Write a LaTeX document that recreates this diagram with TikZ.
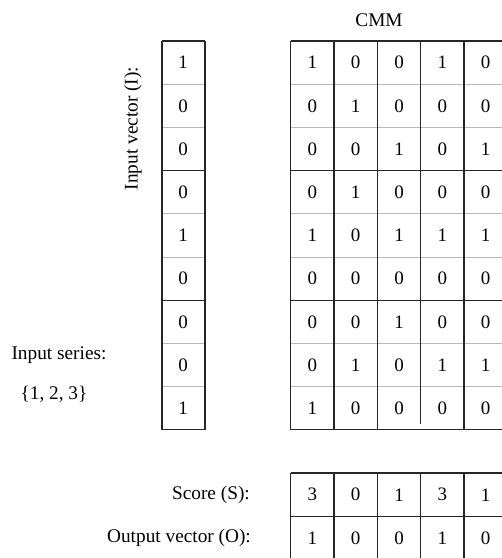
\documentclass[tikz,border=0pt]{standalone}
\usepackage{fontspec}
\setmainfont{Liberation Serif}
\tikzset{
  darkline/.style={line width=1.2pt, draw=black!85},
  lightline/.style={line width=0.8pt, draw=black!28},
  cell/.style={inner sep=0pt, font=\fontsize{19}{22}\selectfont},
  lbl/.style={inner sep=0pt, font=\fontsize{19.3}{22}\selectfont},
}
\begin{document}
\begin{tikzpicture}[x=1pt,y=-1pt]
\useasboundingbox (0,0) rectangle (502,558);
\clip (0,0) rectangle (502,558);
% light inner row lines
\foreach \i in {1,2,4,5,7,8} {
  \draw[lightline] (162,{41+43.2*\i}) -- (205,{41+43.2*\i});
  \draw[lightline] (290.7,{41+43.2*\i}) -- (507.4,{41+43.2*\i});
}
% dark row lines
\foreach \i in {0,3,6,9} {
  \draw[darkline] (162,{41+43.2*\i}) -- (205,{41+43.2*\i});
  \draw[darkline] (290.7,{41+43.2*\i}) -- (507.4,{41+43.2*\i});
}
% input vector sides
\draw[darkline] (162,41) -- (162,429.8);
\draw[darkline] (205,41) -- (205,429.8);
% CMM verticals
\foreach \j in {0,1,2,4,5} {
  \draw[darkline] ({290.7+43.33*\j},41) -- ({290.7+43.33*\j},429.8);
}
\draw[darkline] ({290.7+43.33*3},41) -- ({290.7+43.33*3},424);
% score / output table
\foreach \y in {473,516.5,560} {
  \draw[darkline] (290.7,\y) -- (507.4,\y);
}
\foreach \j in {0,...,5} {
  \draw[darkline] ({290.7+43.33*\j},473) -- ({290.7+43.33*\j},560);
}
% input vector digits
\foreach \v [count=\r] in {1,0,0,0,1,0,0,0,1} {
  \node[cell] (in\r) at (183,{41+43.2*(\r-0.5)}) {\v};
}
% CMM digits
\foreach \row [count=\r] in {{1,0,0,1,0},{0,1,0,0,0},{0,0,1,0,1},{0,1,0,0,0},{1,0,1,1,1},{0,0,0,0,0},{0,0,1,0,0},{0,1,0,1,1},{1,0,0,0,0}} {
  \foreach \v [count=\c] in \row {
    \node[cell] (m\r-\c) at ({290.7+43.33*(\c-0.5)},{41+43.2*(\r-0.5)}) {\v};
  }
}
% score and output digits
\foreach \v [count=\c] in {3,0,1,3,1} {
  \node[cell] (s\c) at ({290.7+43.33*(\c-0.5)},494.75) {\v};
}
\foreach \v [count=\c] in {1,0,0,1,0} {
  \node[cell] (o\c) at ({290.7+43.33*(\c-0.5)},538.25) {\v};
}
% labels
\node[lbl] (cmm) at (379,20) {CMM};
\node[lbl, rotate=90] (ivlabel) at (133,128.5) {Input vector (I):};
\node[lbl] (islabel) at (59,355) {Input series:};
\node[lbl] (isval) at (54,394) {\{1, 2, 3\}};
\node[lbl, anchor=east] (slabel) at (250,494.75) {Score (S):};
\node[lbl, anchor=east] (olabel) at (251,538.25) {Output vector (O):};
\end{tikzpicture}
\end{document}
